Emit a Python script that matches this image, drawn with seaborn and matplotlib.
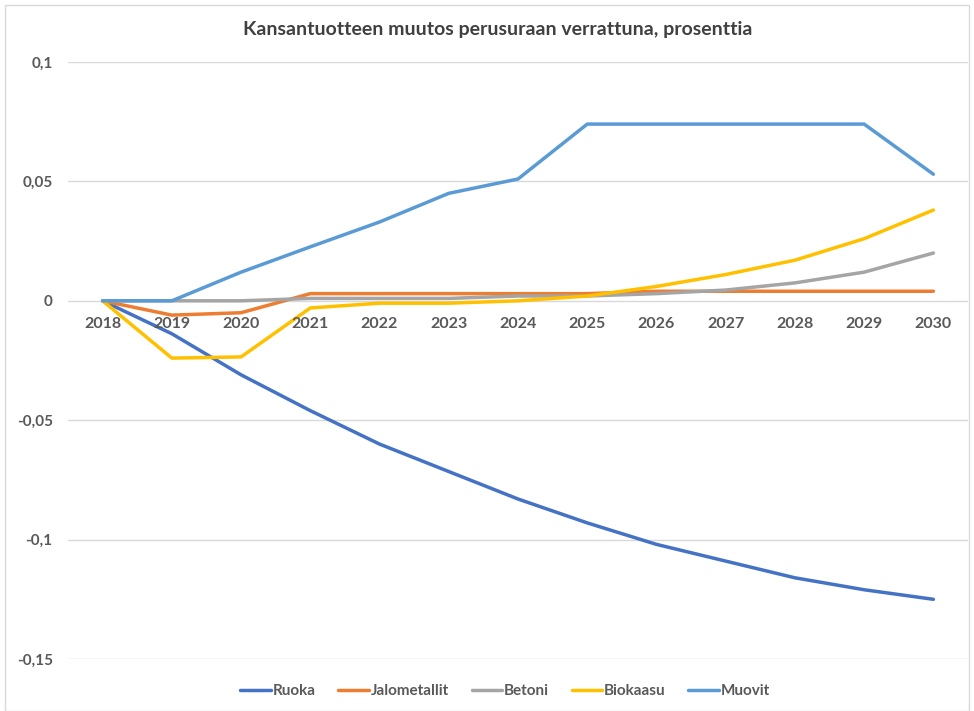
import numpy as np
import pandas as pd
import matplotlib
matplotlib.use('Agg')
import matplotlib.pyplot as plt
import seaborn as sns

years = ['2018', '2019', '2020', '2021', '2022', '2023', '2024',
         '2025', '2026', '2027', '2028', '2029', '2030']

ruoka = [0, -0.0138, -0.031, -0.046, -0.060, -0.0715, -0.083,
         -0.093, -0.102, -0.109, -0.116, -0.121, -0.125]
jalometallit = [0, -0.006, -0.005, 0.003, 0.003, 0.003, 0.003,
                0.003, 0.004, 0.004, 0.004, 0.004, 0.004]
betoni = [0, 0, 0, 0.001, 0.001, 0.001, 0.002,
          0.002, 0.003, 0.0045, 0.0075, 0.012, 0.020]
biokaasu = [0, -0.024, -0.0235, -0.003, -0.001, -0.001, 0,
            0.002, 0.006, 0.011, 0.017, 0.026, 0.038]
muovit = [0, 0, 0.012, 0.0226, 0.033, 0.045, 0.051,
          0.074, 0.074, 0.074, 0.074, 0.074, 0.053]

series = {'Ruoka': ruoka, 'Jalometallit': jalometallit, 'Betoni': betoni,
          'Biokaasu': biokaasu, 'Muovit': muovit}
colors = ['#4472C4', '#ED7D31', '#A5A5A5', '#FFC000', '#5B9BD5']

rows = []
for name, vals in series.items():
    for i, v in enumerate(vals):
        rows.append({'Vuosi': i, 'Sarja': name, 'Arvo': v})
df = pd.DataFrame(rows)

sns.set_theme(style='white')
plt.rcParams['font.family'] = ['Lato', 'DejaVu Sans']
text_col = '#595959'

fig = plt.figure(figsize=(9.74, 7.11), dpi=100)
ax = fig.add_axes([68 / 974, 1 - 659 / 711, 900 / 974, (659 - 62) / 711])

sns.lineplot(data=df, x='Vuosi', y='Arvo', hue='Sarja', palette=colors,
             linewidth=2.5, ax=ax, legend=True)

ax.set_xlim(-0.5, 12.5)
ax.set_ylim(-0.15, 0.1)
yt = [-0.15, -0.1, -0.05, 0, 0.05, 0.1]
ax.set_yticks(yt)
ax.set_yticklabels(['-0,15', '-0,1', '-0,05', '0', '0,05', '0,1'],
                   color=text_col, fontsize=11, fontweight='bold')
ax.yaxis.grid(True, color='#D9D9D9', linewidth=1)
ax.set_axisbelow(True)
ax.tick_params(axis='y', length=0, pad=11)

ax.set_xticks([])
for i, y in enumerate(years):
    ax.text(i, -0.0098, y, ha='center', va='center', color=text_col,
            fontsize=11.5, fontweight='bold')

for s in ax.spines.values():
    s.set_visible(False)
ax.set_xlabel('')
ax.set_ylabel('')

fig.text(498 / 974, 1 - 30 / 711, 'Kansantuotteen muutos perusuraan verrattuna, prosenttia',
         ha='center', va='center', color='#404040', fontsize=14, fontweight='bold')

handles, labels = ax.get_legend_handles_labels()
ax.legend_.remove()
fig.legend(handles, labels, loc='center', bbox_to_anchor=(505 / 974, 1 - 691 / 711),
           ncol=5, frameon=False, handlelength=2.0,
           handletextpad=0.1, columnspacing=1.5,
           labelcolor=text_col, prop={'weight': 'bold', 'size': 11})

fig.patches.append(plt.Rectangle((5 / 974, 0), 964 / 974, 1 - 5 / 711,
                                 transform=fig.transFigure, fill=False,
                                 edgecolor='#D9D9D9', linewidth=1))

fig.savefig('out.png', dpi=100, facecolor='white')
